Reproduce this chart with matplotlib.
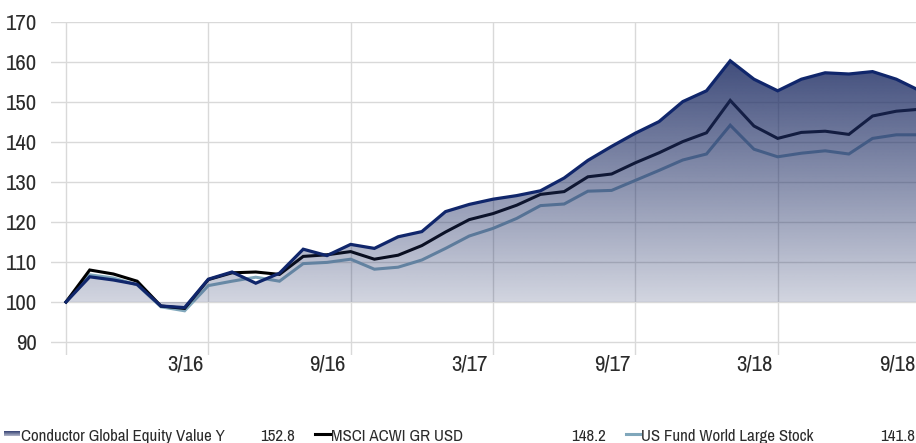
import matplotlib

matplotlib.use("Agg")
import matplotlib.pyplot as plt
import matplotlib.transforms as mtransforms
from matplotlib import font_manager as fm
import numpy as np

# Month-end growth of 100, 9/15 .. 9/18
FUND = [100.0, 106.3, 105.5, 104.4, 99.0, 98.6, 105.7, 107.5, 104.7, 107.2,
        113.2, 111.6, 114.4, 113.4, 116.3, 117.6, 122.6, 124.4, 125.7, 126.6,
        127.8, 131.0, 135.4, 138.9, 142.2, 145.1, 150.1, 152.8, 160.3, 155.7,
        152.8, 155.7, 157.3, 157.0, 157.6, 155.7, 152.8]
INDEX = [100.0, 108.0, 107.0, 105.2, 99.0, 98.4, 105.6, 107.3, 107.5, 106.9,
         111.4, 111.8, 112.6, 110.7, 111.7, 114.1, 117.5, 120.6, 122.1, 124.2,
         126.9, 127.6, 131.3, 132.0, 134.8, 137.3, 140.1, 142.3, 150.4, 144.0,
         140.9, 142.4, 142.7, 141.9, 146.5, 147.7, 148.2]
CATEGORY = [100.0, 106.8, 106.0, 104.3, 98.8, 97.8, 104.1, 105.2, 106.2, 105.2,
            109.6, 109.9, 110.7, 108.2, 108.7, 110.5, 113.4, 116.5, 118.4, 120.9,
            124.1, 124.5, 127.7, 127.9, 130.4, 132.9, 135.5, 137.0, 144.2, 138.2,
            136.3, 137.2, 137.8, 137.0, 140.9, 141.8, 141.8]
NAMES = ["Conductor Global Equity Value Y", "MSCI ACWI GR USD", "US Fund World Large Stock"]
TICK_POS = [0, 6, 12, 18, 24, 30, 36]
TICK_LABELS = ["", "3/16", "9/16", "3/17", "9/17", "3/18", "9/18"]

NAVY = "#10266b"
FILL_RGB = np.array([30, 45, 100]) / 255
STEEL = "#80a7bb"
TEXT = "#2b2b2b"
GRID = "#d9d9d9"


def pick_narrow_font():
    """Return a condensed/narrow sans face if one is installed."""
    best = None
    for f in fm.fontManager.ttflist:
        if f.style != "normal" or f.weight not in (400, "normal", "regular"):
            continue
        n = f.name.lower()
        path = f.fname.lower()
        if "narrow" in n or "narrow" in path:
            return f.fname
        if best is None and ("condensed" in n or "condensed" in path
                             or f.stretch in ("condensed", "semi-condensed")):
            if "mono" not in path and "serif" not in path.replace("sans", ""):
                best = f.fname
    return best


narrow = pick_narrow_font()
if narrow:
    FONT = fm.FontProperties(fname=narrow)
    TICK_SIZE, LEG_SIZE = 16.5, 12.2
else:
    FONT = fm.FontProperties(family="Roboto")
    TICK_SIZE, LEG_SIZE = 15.5, 10.7

W, H = 916, 443
fig = plt.figure(figsize=(W / 100, H / 100), dpi=100)
ax = fig.add_axes([51 / W, 1 - 355 / H, 869 / W, 333 / H])

x = np.arange(len(FUND))

ax.plot(x, CATEGORY, color=STEEL, lw=2.2, zorder=2, solid_joinstyle="miter")
ax.plot(x, INDEX, color="black", lw=2.2, zorder=2.1, solid_joinstyle="miter")

# gradient area under the fund line, fading toward the 100 baseline
poly = ax.fill_between(x, FUND, 100, color="none", lw=0)
top = max(FUND)
ys = np.linspace(95, top, 300)
alpha = np.clip(0.2 + 0.65 * (ys - 100) / (top - 100), 0.2, 1.0)
grad = np.zeros((len(ys), 2, 4))
grad[..., :3] = FILL_RGB
grad[..., 3] = alpha[:, None]
im = ax.imshow(grad, extent=(x[0], x[-1], 95, top), origin="lower",
               aspect="auto", zorder=3, interpolation="bilinear")
im.set_clip_path(poly.get_paths()[0], ax.transData)

ax.plot(x, FUND, color=NAVY, lw=2.3, zorder=4, solid_joinstyle="miter")

ax.set_xlim(-0.632, 36)
ax.set_ylim(86.75, 170)
ax.set_yticks(range(90, 171, 10))
ax.set_xticks(TICK_POS)
ax.set_xticklabels(TICK_LABELS)
ax.tick_params(axis="both", length=0, labelcolor=TEXT)
ax.tick_params(axis="y", pad=10)
ax.tick_params(axis="x", pad=0)
shift = mtransforms.ScaledTranslation(-5 / 100, 0, fig.dpi_scale_trans)
for lbl in ax.get_xticklabels():
    lbl.set_fontproperties(FONT)
    lbl.set_fontsize(TICK_SIZE)
    lbl.set_ha("right")
    lbl.set_transform(lbl.get_transform() + shift)
for lbl in ax.get_yticklabels():
    lbl.set_fontproperties(FONT)
    lbl.set_fontsize(TICK_SIZE)

ax.set_axisbelow(True)
ax.grid(True, color=GRID, lw=1.0)
for spine in ax.spines.values():
    spine.set_visible(False)

# legend row along the bottom
leg = fig.add_axes([0, 0, 1, 1], zorder=5)
leg.set_xlim(0, W)
leg.set_ylim(H, 0)
leg.axis("off")

patch = np.zeros((20, 2, 4))
patch[..., :3] = FILL_RGB
patch[..., 3] = np.linspace(0.9, 0.35, 20)[:, None]
leg.imshow(patch, extent=(4, 20, 436, 431), origin="upper", aspect="auto",
           interpolation="bilinear")
leg.plot([315, 330], [433.5, 433.5], color="black", lw=2.2)
leg.plot([626, 640], [433.5, 433.5], color=STEEL, lw=2.2)

baseline = 441
for name, series, left, right in zip(NAMES, [FUND, INDEX, CATEGORY],
                                      [21, 331, 641], [295, 606, 915]):
    leg.text(left, baseline, name, fontproperties=FONT, fontsize=LEG_SIZE,
             color=TEXT, ha="left", va="baseline")
    leg.text(right, baseline, f"{series[-1]:.1f}", fontproperties=FONT,
             fontsize=LEG_SIZE, color=TEXT, ha="right", va="baseline")

fig.savefig("out.png", dpi=100)
